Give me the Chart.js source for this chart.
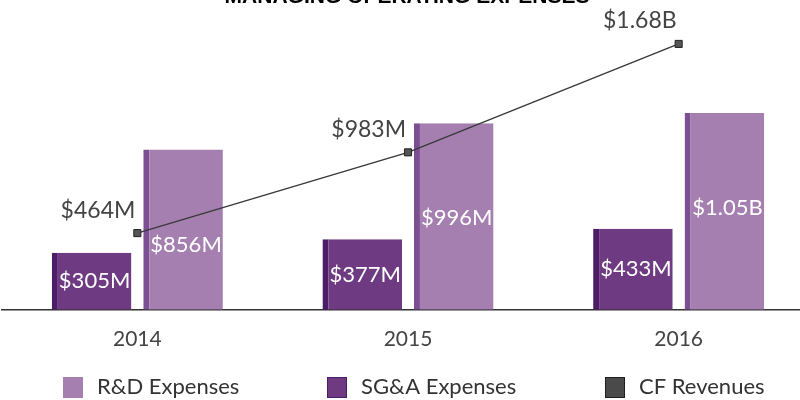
<!DOCTYPE html>
<html>
<head>
<meta charset="utf-8">
<script src="https://cdn.jsdelivr.net/npm/chart.js@4"></script>
<style>
  html, body { margin: 0; padding: 0; background: #fff; overflow: hidden; }
  #wrap { width: 830px; height: 400px; margin-left: -10px; }
</style>
</head>
<body>
<div id="wrap"><canvas id="myChart"></canvas></div>
<script>
var years = ['2014', '2015', '2016'];
var rdExpenses = [856, 996, 1050];
var sgaExpenses = [305, 377, 433];
var cfRevenues = [464, 983, 1680];
var chartTitle = 'MANAGING OPERATING EXPENSES';
var seriesNames = ['R&D Expenses', 'SG&A Expenses', 'CF Revenues'];

// canvas is 10px wider on the left than the window
var SHIFT = 10;

function money(v) {
    return v >= 1000 ? '$' + (v / 1000).toFixed(2) + 'B' : '$' + v + 'M';
}

var labelPlugin = {
    id: 'labels',
    afterDatasetsDraw: function(chart) {
        var ctx = chart.ctx;
        ctx.save();
        ctx.font = '22px Lato';
        ctx.textAlign = 'center';
        ctx.textBaseline = 'middle';
        ctx.fillStyle = '#ffffff';
        chart.getDatasetMeta(0).data.forEach(function(bar, i) {
            ctx.fillText(money(rdExpenses[i]), bar.x + 3, bar.y + 95);
        });
        chart.getDatasetMeta(1).data.forEach(function(bar, i) {
            ctx.fillText(money(sgaExpenses[i]), bar.x + 3, (bar.y + bar.base) / 2);
        });
        ctx.fillStyle = '#444';
        ctx.font = '23px Lato';
        ctx.textAlign = 'right';
        chart.getDatasetMeta(2).data.forEach(function(pt, i) {
            ctx.fillText(money(cfRevenues[i]), pt.x - 2, pt.y - 23);
        });
        ctx.restore();
    },
    afterDraw: function(chart) {
        var ctx = chart.ctx;
        ctx.save();
        // title, cut off by the top edge
        ctx.fillStyle = '#000';
        ctx.font = 'bold 21px "Liberation Sans"';
        ctx.textAlign = 'center';
        ctx.textBaseline = 'alphabetic';
        ctx.fillText(chartTitle, 407 + SHIFT, 3);
        // legend
        var boxX = [63, 327, 605];
        var fills = ['#a47fb0', '#6e3b82', '#4a4a4a'];
        var strokes = ['#a47fb0', '#4d1c66', '#1e1e1e'];
        ctx.font = '22px Lato';
        ctx.textAlign = 'left';
        ctx.textBaseline = 'middle';
        for (var i = 0; i < seriesNames.length; i++) {
            ctx.fillStyle = fills[i];
            ctx.fillRect(boxX[i] + SHIFT, 377, 20, 21);
            ctx.strokeStyle = strokes[i];
            ctx.lineWidth = 1;
            ctx.strokeRect(boxX[i] + SHIFT + 0.5, 377.5, 19, 20);
            ctx.fillStyle = '#333';
            ctx.fillText(seriesNames[i], boxX[i] + 34 + SHIFT, 387);
        }
        ctx.restore();
    }
};

var ctx = document.getElementById('myChart').getContext('2d');
var myChart = new Chart(ctx, {
    type: 'bar',
    data: {
        labels: years,
        datasets: [{
            label: seriesNames[0],
            data: rdExpenses,
            backgroundColor: '#a47fb0',
            borderColor: '#7c4f92',
            borderWidth: { left: 6, right: 0, top: 0, bottom: 0 },
            borderSkipped: false,
            order: 2,
            yAxisID: 'y'
        }, {
            label: seriesNames[1],
            data: sgaExpenses,
            backgroundColor: '#6e3b82',
            borderColor: '#4d1c66',
            borderWidth: { left: 6, right: 0, top: 0, bottom: 0 },
            borderSkipped: false,
            order: 1,
            yAxisID: 'y'
        }, {
            type: 'line',
            label: seriesNames[2],
            data: cfRevenues,
            borderColor: '#3a3a3a',
            borderWidth: 1.5,
            pointStyle: 'rect',
            pointRadius: 5,
            pointBackgroundColor: '#555555',
            pointBorderColor: '#222222',
            pointBorderWidth: 1,
            order: 0,
            yAxisID: 'y2'
        }]
    },
    options: {
        responsive: true,
        maintainAspectRatio: false,
        animation: false,
        categoryPercentage: 0.676,
        barPercentage: 0.87,
        layout: { padding: { left: 12, right: 2, top: 10, bottom: 39 } },
        plugins: {
            tooltip: { enabled: false },
            legend: { display: false }
        },
        scales: {
            x: {
                grid: { display: false },
                border: { color: '#333', width: 1.5 },
                ticks: { color: '#444', font: { family: 'Lato', size: 21 }, padding: 9 }
            },
            y: {
                display: false,
                min: 0,
                max: 1600
            },
            y2: {
                display: false,
                min: -29,
                max: 1898
            }
        }
    },
    plugins: [labelPlugin]
});
</script>
</body>
</html>
